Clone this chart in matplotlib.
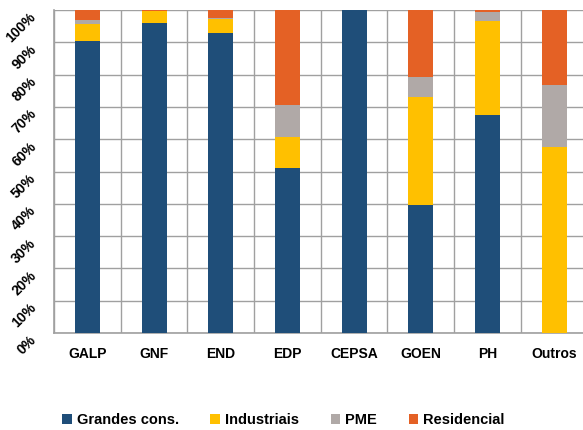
import numpy as np
import matplotlib.pyplot as plt

empresas = ['GALP', 'GNF', 'END', 'EDP', 'CEPSA', 'GOEN', 'PH', 'Outros']
grandes = [90.5, 95.9, 92.8, 51.2, 100.0, 39.7, 67.5, 0.0]
industriais = [5.3, 3.8, 4.4, 9.6, 0.0, 33.3, 29.2, 57.7]
pme = [1.1, 0.0, 0.4, 9.9, 0.0, 6.2, 2.7, 19.1]
residencial = [3.1, 0.3, 2.4, 29.3, 0.0, 20.8, 0.6, 23.2]

series = [('Grandes cons.', grandes, '#1F4E79'),
          ('Industriais', industriais, '#FFC000'),
          ('PME', pme, '#B0A9A7'),
          ('Residencial', residencial, '#E46125')]

plt.rcParams['font.family'] = ['Liberation Sans', 'DejaVu Sans']
plt.rcParams['font.weight'] = 'bold'

fig = plt.figure(figsize=(5.83, 4.30), dpi=100)
ax = fig.add_axes([0.0926, 0.2256, 0.915, 0.7511])

x = np.arange(len(empresas))
base = np.zeros(len(empresas))
for nome, vals, cor in series:
    vals = np.array(vals)
    ax.bar(x, vals, 0.375, bottom=base, color=cor, label=nome, zorder=3)
    base += vals

ax.set_xlim(-0.5, len(empresas) - 0.5)
ax.set_ylim(0, 100)
ax.set_yticks(np.arange(0, 101, 10))
ax.set_yticklabels([f'{v}%' for v in range(0, 101, 10)], fontsize=10,
                   fontweight='bold', rotation=45, rotation_mode='anchor',
                   ha='right', va='top')
ax.set_xticks(x)
ax.set_xticklabels(empresas, fontsize=10, fontweight='bold')
ax.set_xticks(np.arange(-0.5, len(empresas), 1), minor=True)
ax.tick_params(axis='both', which='both', length=0)
ax.tick_params(axis='x', pad=10)
ax.tick_params(axis='y', pad=18)
ax.grid(axis='y', which='major', color='#A0A0A0', linewidth=1, zorder=0)
ax.grid(axis='x', which='minor', color='#A0A0A0', linewidth=1, zorder=0)
ax.grid(axis='x', which='major', visible=False)
for s in ['top', 'right']:
    ax.spines[s].set_visible(False)
for s in ['left', 'bottom']:
    ax.spines[s].set_color('#A0A0A0')
    ax.spines[s].set_linewidth(1.2)

fig.legend(loc='center left', bbox_to_anchor=(0.1063, 0.023), ncol=4, frameon=False,
           handlelength=0.68, handleheight=0.68, columnspacing=2.15,
           handletextpad=0.34, borderpad=0, borderaxespad=0,
           prop={'weight': 'bold', 'size': 10.5})

fig.savefig('out.png', dpi=100)
